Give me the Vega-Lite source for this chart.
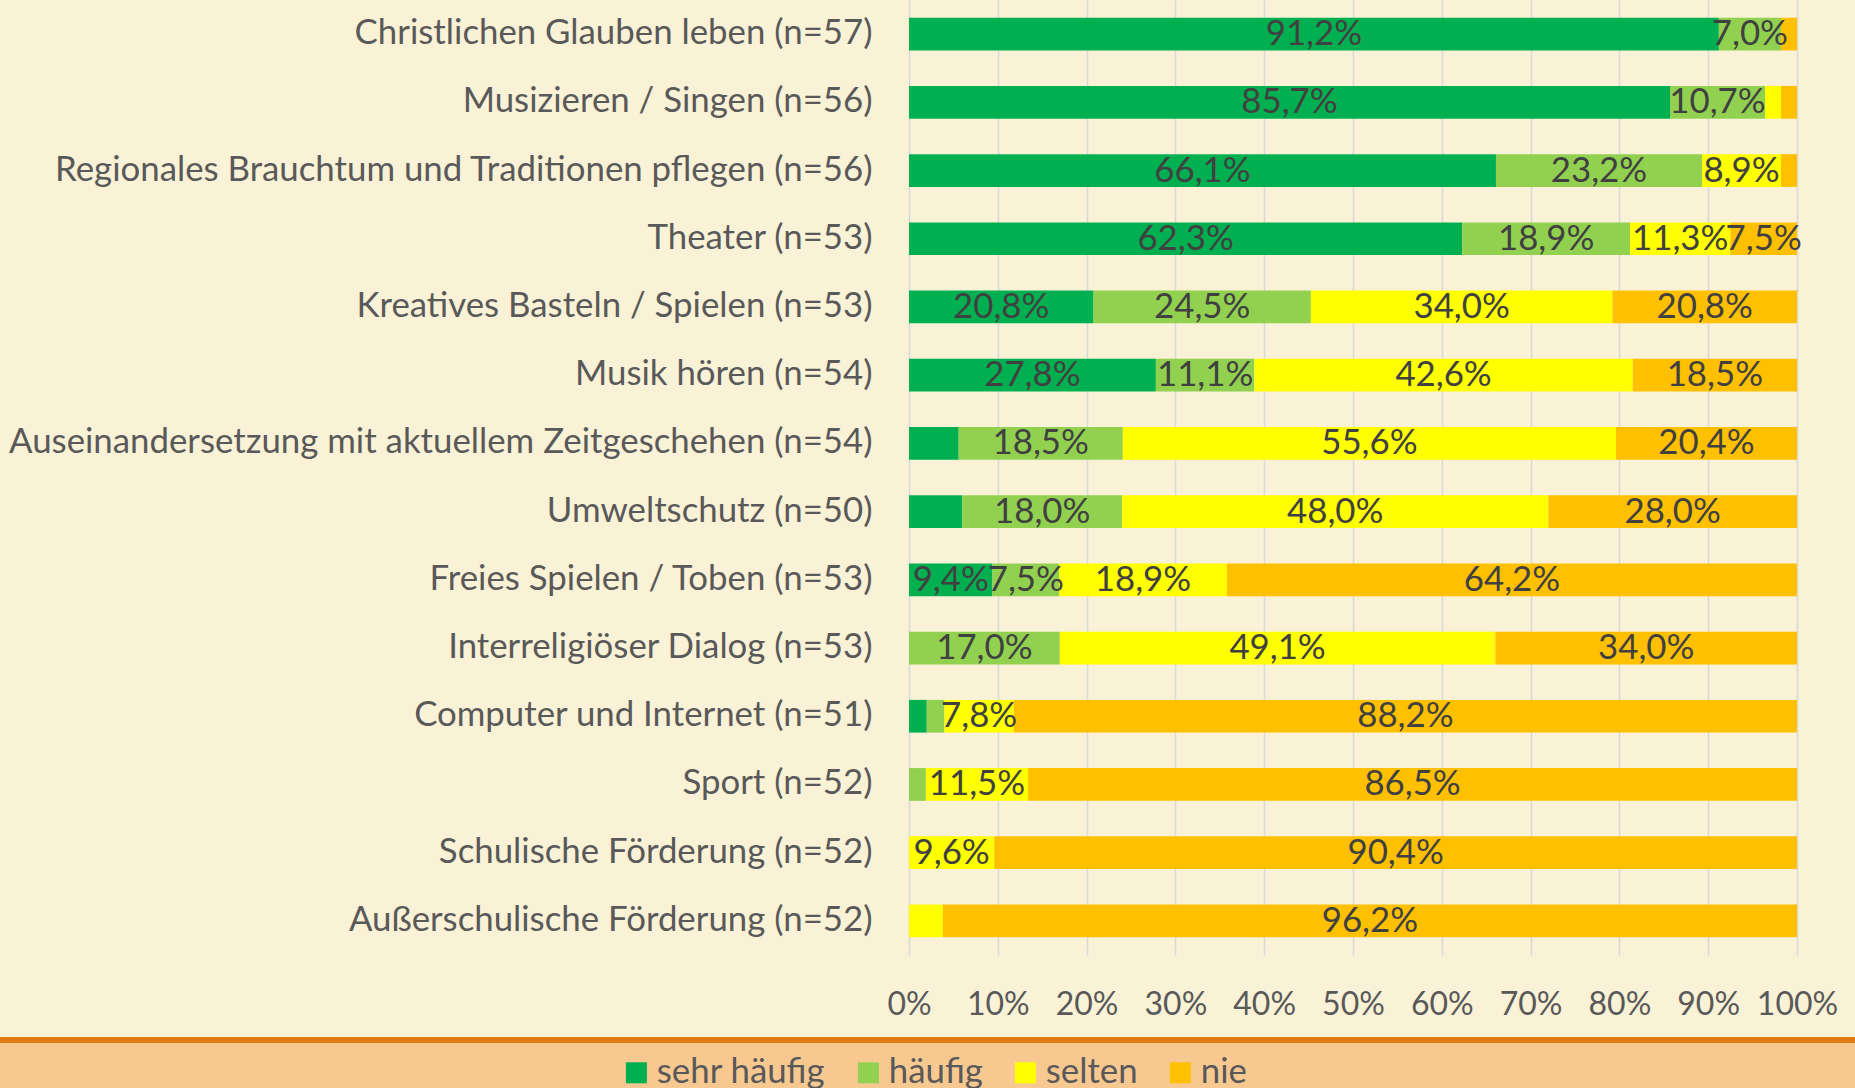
{
  "$schema": "https://vega.github.io/schema/vega-lite/v6.json",
  "background": "#FAF2D6",
  "padding": {"left": 0, "top": 0, "right": 0, "bottom": 0},
  "columns": 1,
  "spacing": 17,
  "config": {
    "font": "Lato",
    "view": {"stroke": null},
    "locale": {"number": {"decimal": ",", "thousands": ".", "grouping": [3], "currency": ["", " €"]}}
  },
  "concat": [
    {
      "width": 1797,
      "height": 955,
      "data": {"values": [
        {"cat": "Christlichen Glauben leben (n=57)", "level": "sehr häufig", "code": 1, "v": 0.912},
        {"cat": "Christlichen Glauben leben (n=57)", "level": "häufig", "code": 2, "v": 0.070},
        {"cat": "Christlichen Glauben leben (n=57)", "level": "nie", "code": 4, "v": 0.018},
        {"cat": "Musizieren / Singen (n=56)", "level": "sehr häufig", "code": 1, "v": 0.857},
        {"cat": "Musizieren / Singen (n=56)", "level": "häufig", "code": 2, "v": 0.107},
        {"cat": "Musizieren / Singen (n=56)", "level": "selten", "code": 3, "v": 0.018},
        {"cat": "Musizieren / Singen (n=56)", "level": "nie", "code": 4, "v": 0.018},
        {"cat": "Regionales Brauchtum und Traditionen pflegen (n=56)", "level": "sehr häufig", "code": 1, "v": 0.661},
        {"cat": "Regionales Brauchtum und Traditionen pflegen (n=56)", "level": "häufig", "code": 2, "v": 0.232},
        {"cat": "Regionales Brauchtum und Traditionen pflegen (n=56)", "level": "selten", "code": 3, "v": 0.089},
        {"cat": "Regionales Brauchtum und Traditionen pflegen (n=56)", "level": "nie", "code": 4, "v": 0.018},
        {"cat": "Theater (n=53)", "level": "sehr häufig", "code": 1, "v": 0.623},
        {"cat": "Theater (n=53)", "level": "häufig", "code": 2, "v": 0.189},
        {"cat": "Theater (n=53)", "level": "selten", "code": 3, "v": 0.113},
        {"cat": "Theater (n=53)", "level": "nie", "code": 4, "v": 0.075},
        {"cat": "Kreatives Basteln / Spielen (n=53)", "level": "sehr häufig", "code": 1, "v": 0.208},
        {"cat": "Kreatives Basteln / Spielen (n=53)", "level": "häufig", "code": 2, "v": 0.245},
        {"cat": "Kreatives Basteln / Spielen (n=53)", "level": "selten", "code": 3, "v": 0.340},
        {"cat": "Kreatives Basteln / Spielen (n=53)", "level": "nie", "code": 4, "v": 0.208},
        {"cat": "Musik hören (n=54)", "level": "sehr häufig", "code": 1, "v": 0.278},
        {"cat": "Musik hören (n=54)", "level": "häufig", "code": 2, "v": 0.111},
        {"cat": "Musik hören (n=54)", "level": "selten", "code": 3, "v": 0.426},
        {"cat": "Musik hören (n=54)", "level": "nie", "code": 4, "v": 0.185},
        {"cat": "Auseinandersetzung mit aktuellem Zeitgeschehen (n=54)", "level": "sehr häufig", "code": 1, "v": 0.056},
        {"cat": "Auseinandersetzung mit aktuellem Zeitgeschehen (n=54)", "level": "häufig", "code": 2, "v": 0.185},
        {"cat": "Auseinandersetzung mit aktuellem Zeitgeschehen (n=54)", "level": "selten", "code": 3, "v": 0.556},
        {"cat": "Auseinandersetzung mit aktuellem Zeitgeschehen (n=54)", "level": "nie", "code": 4, "v": 0.204},
        {"cat": "Umweltschutz (n=50)", "level": "sehr häufig", "code": 1, "v": 0.060},
        {"cat": "Umweltschutz (n=50)", "level": "häufig", "code": 2, "v": 0.180},
        {"cat": "Umweltschutz (n=50)", "level": "selten", "code": 3, "v": 0.480},
        {"cat": "Umweltschutz (n=50)", "level": "nie", "code": 4, "v": 0.280},
        {"cat": "Freies Spielen / Toben (n=53)", "level": "sehr häufig", "code": 1, "v": 0.094},
        {"cat": "Freies Spielen / Toben (n=53)", "level": "häufig", "code": 2, "v": 0.075},
        {"cat": "Freies Spielen / Toben (n=53)", "level": "selten", "code": 3, "v": 0.189},
        {"cat": "Freies Spielen / Toben (n=53)", "level": "nie", "code": 4, "v": 0.642},
        {"cat": "Interreligiöser Dialog (n=53)", "level": "häufig", "code": 2, "v": 0.170},
        {"cat": "Interreligiöser Dialog (n=53)", "level": "selten", "code": 3, "v": 0.491},
        {"cat": "Interreligiöser Dialog (n=53)", "level": "nie", "code": 4, "v": 0.340},
        {"cat": "Computer und Internet (n=51)", "level": "sehr häufig", "code": 1, "v": 0.020},
        {"cat": "Computer und Internet (n=51)", "level": "häufig", "code": 2, "v": 0.020},
        {"cat": "Computer und Internet (n=51)", "level": "selten", "code": 3, "v": 0.078},
        {"cat": "Computer und Internet (n=51)", "level": "nie", "code": 4, "v": 0.882},
        {"cat": "Sport (n=52)", "level": "häufig", "code": 2, "v": 0.019},
        {"cat": "Sport (n=52)", "level": "selten", "code": 3, "v": 0.115},
        {"cat": "Sport (n=52)", "level": "nie", "code": 4, "v": 0.865},
        {"cat": "Schulische Förderung (n=52)", "level": "selten", "code": 3, "v": 0.096},
        {"cat": "Schulische Förderung (n=52)", "level": "nie", "code": 4, "v": 0.904},
        {"cat": "Außerschulische Förderung (n=52)", "level": "selten", "code": 3, "v": 0.038},
        {"cat": "Außerschulische Förderung (n=52)", "level": "nie", "code": 4, "v": 0.962}
      ]},
      "encoding": {
        "y": {
          "field": "cat", "type": "nominal", "sort": null,
          "scale": {"paddingInner": 0.52, "paddingOuter": 0.26},
          "axis": {
            "title": null, "offset": -909,
            "domain": false, "ticks": false, "tickSize": 0,
            "labelFont": "Lato", "labelFontSize": 34.8, "labelColor": "#595959",
            "labelPadding": 37, "labelLimit": 1200
          }
        },
        "order": {"field": "code", "type": "quantitative"}
      },
      "layer": [
        {
          "mark": {"type": "bar"},
          "encoding": {
            "x": {
              "field": "v", "type": "quantitative", "stack": "normalize",
              "scale": {"domain": [0, 1], "range": [909, 1797]},
              "axis": {
                "title": null, "format": ".0%", "values": [0, 0.1, 0.2, 0.3, 0.4, 0.5, 0.6, 0.7, 0.8, 0.9, 1],
                "domain": false, "ticks": false, "tickSize": 0, "labelOverlap": false, "labelFlush": false,
                "grid": true, "gridColor": "#D9D9D9", "gridWidth": 1.6,
                "labelFont": "Lato", "labelFontSize": 32, "labelColor": "#595959",
                "labelPadding": 34
              }
            },
            "color": {
              "field": "level", "type": "nominal",
              "sort": ["sehr häufig", "häufig", "selten", "nie"],
              "scale": {"domain": ["sehr häufig", "häufig", "selten", "nie"], "range": ["#00B050", "#92D050", "#FFFF00", "#FFC000"]},
              "legend": {
                "orient": "none", "legendX": 619, "legendY": 1055, "direction": "horizontal",
                "title": null, "zindex": 2,
                "symbolType": "square", "symbolSize": 441, "symbolStrokeWidth": 0,
                "labelFont": "Lato", "labelFontSize": 34.8, "labelColor": "#595959", "labelLimit": 500,
                "labelOffset": 3, "columnPadding": 25, "padding": 0
              }
            }
          }
        },
        {
          "mark": {"type": "text", "font": "Lato", "fontSize": 34.8, "color": "#404040", "baseline": "middle", "dy": 1},
          "encoding": {
            "x": {"field": "v", "type": "quantitative", "stack": "normalize", "bandPosition": 0.5},
            "text": {"field": "v", "type": "quantitative", "format": ".1%"},
            "opacity": {"condition": {"test": "datum.v < 0.065", "value": 0}, "value": 1}
          }
        }
      ]
    },
    {
      "width": 1855,
      "height": 52,
      "view": {"fill": "#F8C891", "stroke": null},
      "data": {"values": [{"band": "top edge"}]},
      "mark": {"type": "rect", "color": "#E07B10"},
      "encoding": {
        "x": {"datum": 0, "type": "quantitative", "scale": {"domain": [0, 1], "nice": false, "zero": false}, "axis": null},
        "x2": {"datum": 1},
        "y": {"datum": 1, "type": "quantitative", "scale": {"domain": [0, 1], "nice": false, "zero": false}, "axis": null},
        "y2": {"datum": 0.885}
      }
    }
  ]
}
